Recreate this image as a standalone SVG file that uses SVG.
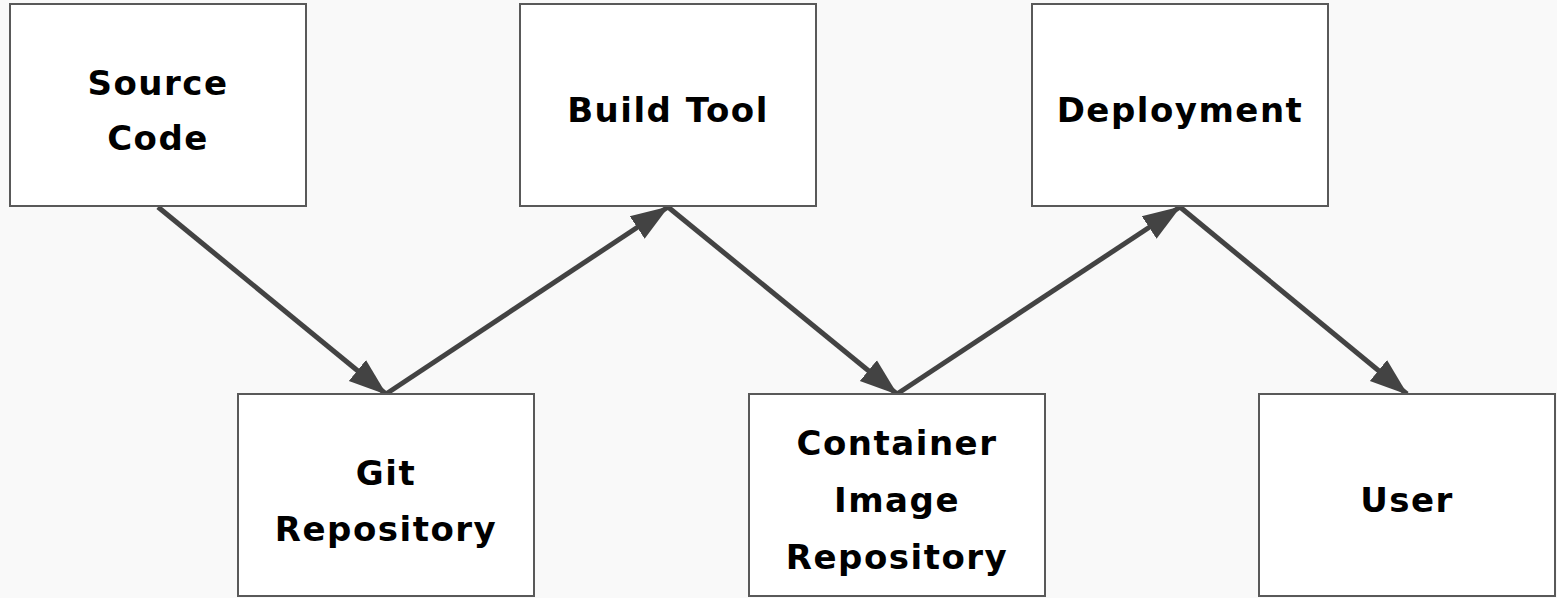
<svg xmlns="http://www.w3.org/2000/svg" width="1557" height="598" viewBox="0 0 1557 598">
  <style>
    .box { fill: #ffffff; stroke: #595959; stroke-width: 2; }
    .label { font-family: "DejaVu Sans", "Noto Sans", sans-serif; font-weight: bold; font-size: 34px; letter-spacing: 1.5px; fill: #000000; text-anchor: middle; }
    .edge { stroke: #434343; stroke-width: 5; fill: none; marker-end: url(#arrow); }
  </style>
  <defs>
    <marker id="arrow" markerUnits="userSpaceOnUse" markerWidth="38" markerHeight="30" viewBox="0 0 38 30" refX="37" refY="15" orient="auto">
      <path d="M0,1.5 L38,15 L0,28.5 Z" fill="#434343"/>
    </marker>
  </defs>
  <rect x="0" y="0" width="1557" height="598" fill="#f9f9f9"/>

  <g id="connectors">
    <line class="edge" x1="158" y1="207" x2="386" y2="394"/>
    <line class="edge" x1="386" y1="394" x2="668" y2="207"/>
    <line class="edge" x1="668" y1="207" x2="897" y2="394"/>
    <line class="edge" x1="897" y1="394" x2="1180" y2="207"/>
    <line class="edge" x1="1180" y1="207" x2="1407" y2="394"/>
  </g>

  <g id="source-code">
    <rect class="box" x="10" y="4" width="296" height="202"/>
    <text class="label" x="158" y="95">Source</text>
    <text class="label" x="158" y="150">Code</text>
  </g>
  <g id="build-tool">
    <rect class="box" x="520" y="4" width="296" height="202"/>
    <text class="label" x="668" y="122">Build Tool</text>
  </g>
  <g id="deployment">
    <rect class="box" x="1032" y="4" width="296" height="202"/>
    <text class="label" x="1180" y="122">Deployment</text>
  </g>
  <g id="git-repository">
    <rect class="box" x="238" y="394" width="296" height="202"/>
    <text class="label" x="386" y="485">Git</text>
    <text class="label" x="386" y="541">Repository</text>
  </g>
  <g id="container-image-repository">
    <rect class="box" x="749" y="394" width="296" height="202"/>
    <text class="label" x="897" y="455">Container</text>
    <text class="label" x="897" y="512">Image</text>
    <text class="label" x="897" y="569">Repository</text>
  </g>
  <g id="user">
    <rect class="box" x="1259" y="394" width="296" height="202"/>
    <text class="label" x="1407" y="512">User</text>
  </g>
</svg>
